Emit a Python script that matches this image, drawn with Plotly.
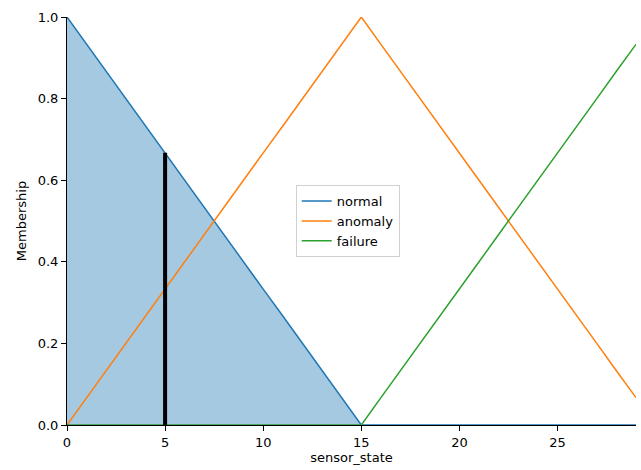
import plotly.graph_objects as go

x_vals = list(range(30))
normal = [1.000, 0.933, 0.867, 0.800, 0.733, 0.667, 0.600, 0.533, 0.467, 0.400,
          0.333, 0.267, 0.200, 0.133, 0.067, 0.000, 0.000, 0.000, 0.000, 0.000,
          0.000, 0.000, 0.000, 0.000, 0.000, 0.000, 0.000, 0.000, 0.000, 0.000]
anomaly = [0.000, 0.067, 0.133, 0.200, 0.267, 0.333, 0.400, 0.467, 0.533, 0.600,
           0.667, 0.733, 0.800, 0.867, 0.933, 1.000, 0.933, 0.867, 0.800, 0.733,
           0.667, 0.600, 0.533, 0.467, 0.400, 0.333, 0.267, 0.200, 0.133, 0.067]
failure = [0.000, 0.000, 0.000, 0.000, 0.000, 0.000, 0.000, 0.000, 0.000, 0.000,
           0.000, 0.000, 0.000, 0.000, 0.000, 0.000, 0.067, 0.133, 0.200, 0.267,
           0.333, 0.400, 0.467, 0.533, 0.600, 0.667, 0.733, 0.800, 0.867, 0.933]
input_value = 5
input_membership = 0.667
x_ticks = [0, 5, 10, 15, 20, 25]
y_ticks = [0.0, 0.2, 0.4, 0.6, 0.8, 1.0]

FONT = "DejaVu Sans"
fig = go.Figure()

fig.add_trace(go.Scatter(x=x_vals, y=normal, mode="lines", line=dict(width=0),
                         fill="tozeroy", fillcolor="rgba(31,119,180,0.4)",
                         showlegend=False, hoverinfo="skip"))
fig.add_trace(go.Scatter(x=x_vals, y=normal, mode="lines", name="normal",
                         line=dict(color="#1f77b4", width=1.5)))
fig.add_trace(go.Scatter(x=x_vals, y=anomaly, mode="lines", name="anomaly",
                         line=dict(color="#ff7f0e", width=1.5)))
fig.add_trace(go.Scatter(x=x_vals, y=failure, mode="lines", name="failure",
                         line=dict(color="#2ca02c", width=1.5)))
fig.add_trace(go.Scatter(x=[input_value, input_value], y=[0, input_membership],
                         mode="lines", line=dict(color="black", width=4),
                         showlegend=False))

fig.update_layout(
    width=641, height=470,
    margin=dict(l=67, r=5, t=17, b=45),
    paper_bgcolor="white", plot_bgcolor="white",
    font=dict(family=FONT, size=13, color="black"),
    legend=dict(x=0.402, y=0.588, xanchor="left", yanchor="top",
                bgcolor="white", bordercolor="#d0d0d0", borderwidth=1,
                font=dict(size=13), tracegroupgap=0),
    xaxis=dict(range=[0, 29], tickvals=x_ticks, ticks="outside", ticklen=5,
               tickcolor="black", showline=True, linecolor="black", linewidth=1,
               showgrid=False, zeroline=False, layer="below traces",
               tickfont=dict(size=13),
               title=dict(text="sensor_state", standoff=4, font=dict(size=13))),
    yaxis=dict(range=[0, 1.0], tickvals=y_ticks, tickformat=".1f", ticks="outside",
               ticklen=5, tickcolor="black", showline=True, linecolor="black",
               linewidth=1, showgrid=False, zeroline=False, layer="below traces",
               tickfont=dict(size=13),
               title=dict(text="Membership", standoff=8, font=dict(size=13))),
)

fig.write_html("out.html")
